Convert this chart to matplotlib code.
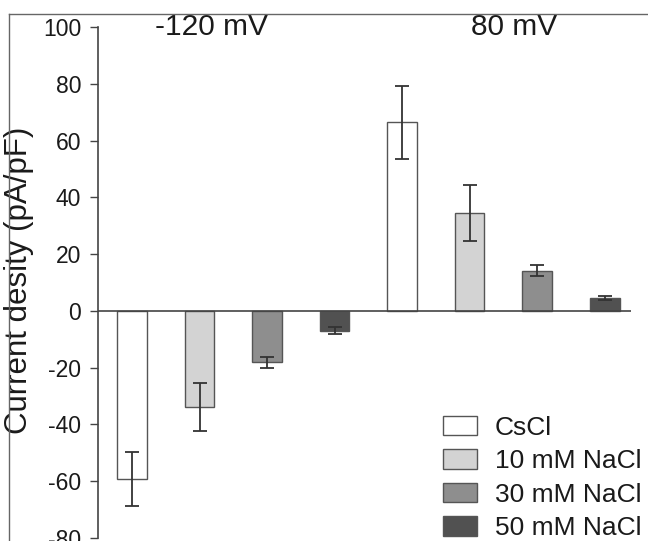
import numpy as np
import matplotlib
matplotlib.use('Agg')
import matplotlib.pyplot as plt
from matplotlib.lines import Line2D
from matplotlib.patches import Patch

plt.rcParams['font.family'] = ['Liberation Sans', 'DejaVu Sans']
plt.rcParams['axes.unicode_minus'] = False

# data
groups = ['-120 mV', '80 mV']
solutions = ['CsCl', '10 mM NaCl', '30 mM NaCl', '50 mM NaCl']
vals_neg = [-59.3, -33.9, -18.1, -7.0]
err_neg = [9.6, 8.5, 1.9, 1.2]
vals_pos = [66.4, 34.4, 14.2, 4.5]
err_pos = [12.9, 9.8, 1.9, 0.7]
colors = ['#ffffff', '#d3d3d3', '#8e8e8e', '#515151']

fig = plt.figure(figsize=(6.48, 5.41), dpi=100)
W, H = 648, 541
ax = fig.add_axes([98 / W, (H - 538) / H, (631 - 98) / W, (538 - 27) / H])

x = np.arange(8)
vals = vals_neg + vals_pos
errs = err_neg + err_pos
cols = colors + colors
ax.bar(x, vals, width=0.44, color=cols, edgecolor='#555555', linewidth=1.0, zorder=2)
ax.errorbar(x, vals, yerr=errs, fmt='none', ecolor='#333333', elinewidth=1.3,
            capsize=4.7, capthick=1.3, zorder=3)
ax.axhline(0, color='#444444', linewidth=1.2, zorder=4)

ax.set_xlim(-0.504, 7.39)
ax.set_ylim(-80, 100)
ax.set_yticks(np.arange(-80, 101, 20))
ax.tick_params(axis='y', direction='out', length=6, width=1.0, color='#444444',
               labelsize=16.5, labelcolor='#1a1a1a', pad=6)
ax.set_xticks([])
for s in ['top', 'right', 'bottom']:
    ax.spines[s].set_visible(False)
ax.spines['left'].set_color('#444444')
ax.spines['left'].set_linewidth(1.2)
ax.set_ylabel('Current desity (pA/pF)', fontsize=22.5, color='#1a1a1a')
ax.yaxis.set_label_coords(-0.12, 0.505)

# group labels
ax.text(1.17, 100, groups[0], fontsize=21.5, ha='center', va='center', color='#1a1a1a')
ax.text(5.66, 100, groups[1], fontsize=21.5, ha='center', va='center', color='#1a1a1a')

# legend
handles = [Patch(facecolor=c, edgecolor='#555555', linewidth=1.0) for c in colors]
leg = ax.legend(handles, solutions, loc='lower left', bbox_to_anchor=(0.647, -0.004),
                frameon=False, fontsize=19, handlelength=1.29, handleheight=0.76,
                handletextpad=0.68, labelspacing=0.36, borderpad=0, borderaxespad=0)
for t in leg.get_texts():
    t.set_color('#1a1a1a')

# outer frame lines of the original panel
fig.add_artist(Line2D([9 / W, 1], [1 - 14 / H, 1 - 14 / H], transform=fig.transFigure,
                      color='#666666', linewidth=1.0))
fig.add_artist(Line2D([9 / W, 9 / W], [0, 1 - 14 / H], transform=fig.transFigure,
                      color='#666666', linewidth=1.0))

fig.savefig('out.png', dpi=100)
